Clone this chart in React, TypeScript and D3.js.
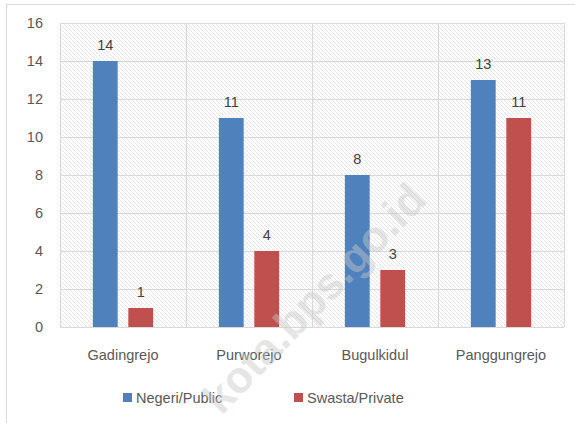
import React from "react";
import * as d3 from "d3";

const categories = ["Gadingrejo", "Purworejo", "Bugulkidul", "Panggungrejo"];
const seriesNames = ["Negeri/Public", "Swasta/Private"];
const negeri = [14, 11, 8, 13];
const swasta = [1, 4, 3, 11];
const yTicks = [0, 2, 4, 6, 8, 10, 12, 14, 16];
const colors = ["#4f81bd", "#c0504d"];

const W = 575;
const H = 423;
const FONT = "'Liberation Sans', Arial, sans-serif";

export default function App() {
  const left = 60, right = 564, top = 23, bottom = 327;
  const x0 = d3.scaleBand().domain(categories).range([left, right]).paddingInner(0).paddingOuter(0);
  const x1 = d3.scaleBand().domain(seriesNames).range([0, x0.bandwidth()]).paddingInner(0.3).paddingOuter(0.926);
  const y = d3.scaleLinear().domain([0, 16]).range([bottom, top]);
  const series = [negeri, swasta];

  return (
    <svg width={W} height={H} style={{ position: "fixed", left: 0, top: 0, background: "#fff" }} fontFamily={FONT}>
      <defs>
        <pattern id="hatch" width="4" height="4" patternUnits="userSpaceOnUse">
          <path d="M-1,-1 L5,5 M-1,3 L1,5 M3,-1 L5,1" stroke="#dedede" strokeWidth="0.8" />
        </pattern>
      </defs>
      <rect x={0} y={0} width={W} height={H} fill="#fff" />
      <rect x={6.5} y={4.5} width={W + 20} height={H + 20} fill="none" stroke="#d9d9d9" strokeWidth={1} />
      <rect x={left} y={top} width={right - left} height={bottom - top} fill="url(#hatch)" />
      {yTicks.map((t) => (
        <line key={"g" + t} x1={left} x2={right} y1={Math.round(y(t)) + 0.5} y2={Math.round(y(t)) + 0.5} stroke="#d9d9d9" strokeWidth={1} />
      ))}
      {categories.concat(["end"]).map((c, i) => {
        const xv = i < categories.length ? (x0(c) as number) : right;
        return <line key={"v" + i} x1={Math.round(xv) + 0.5} x2={Math.round(xv) + 0.5} y1={top} y2={bottom} stroke="#d9d9d9" strokeWidth={1} />;
      })}
      {yTicks.map((t) => (
        <text key={"y" + t} x={43} y={y(t)} dy="0.35em" textAnchor="end" fontSize={14.5} fill="#595959">{t}</text>
      ))}
      {categories.map((c, ci) => (
        <g key={c}>
          {series.map((s, si) => {
            const bx = (x0(c) as number) + (x1(seriesNames[si]) as number);
            const bw = x1.bandwidth();
            return (
              <g key={si}>
                <rect x={bx} y={y(s[ci])} width={bw} height={y(0) - y(s[ci])} fill={colors[si]} />
                <text x={bx + bw / 2} y={y(s[ci]) - 11} textAnchor="middle" fontSize={14.5} fill="#404040">{s[ci]}</text>
              </g>
            );
          })}
          <text x={(x0(c) as number) + x0.bandwidth() / 2} y={360} textAnchor="middle" fontSize={14.5} fill="#595959">{c}</text>
        </g>
      ))}
      {seriesNames.map((n, i) => {
        const lx = i === 0 ? 123 : 294;
        return (
          <g key={n}>
            <rect x={lx} y={393} width={9} height={9} fill={colors[i]} />
            <text x={lx + 13} y={397.5} dy="0.35em" fontSize={14.5} fill="#595959">{n}</text>
          </g>
        );
      })}
      <text
        x={314}
        y={298}
        transform="rotate(-46 314 298)"
        textAnchor="middle"
        dy="0.35em"
        fontSize={44}
        fontWeight="bold"
        fill="#c8c8c8"
        opacity={0.45}
      >kota.bps.go.id</text>
    </svg>
  );
}
